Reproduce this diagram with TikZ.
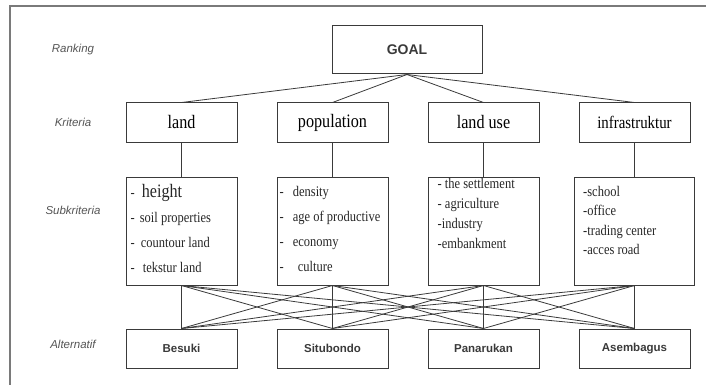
\documentclass[tikz,border=0pt]{standalone}
\usepackage{fontspec}
\setmainfont{Liberation Serif}[FakeStretch=0.85]
\setsansfont{Liberation Sans}
\usetikzlibrary{positioning}
\definecolor{inkgray}{HTML}{3A3A3A}
\definecolor{labelgray}{HTML}{555555}
\definecolor{framegray}{HTML}{7A7A7A}
\tikzset{
	goalbox/.style={draw=inkgray, line width=1pt, inner sep=0pt, minimum width=150pt, minimum height=48pt, font=\sffamily\bfseries\fontsize{14}{16}\selectfont, text=inkgray},
	critbox/.style={draw=inkgray, line width=1pt, inner sep=0pt, minimum width=111pt, minimum height=39pt, font=\fontsize{19}{21}\selectfont},
	subbox/.style={draw=inkgray, line width=1pt, inner sep=0pt, minimum width=111pt, minimum height=108pt},
	altbox/.style={draw=inkgray, line width=1pt, inner sep=0pt, minimum width=111pt, minimum height=39pt, font=\sffamily\bfseries\fontsize{11.5}{13}\selectfont, text=inkgray},
	sublist/.style={anchor=north west, inner sep=0pt, align=left, text=black!85},
	tier/.style={font=\sffamily\itshape\fontsize{11.5}{13}\selectfont, text=labelgray},
	link/.style={draw=inkgray, line width=0.8pt}
}

\begin{document}
\begin{tikzpicture}[x=1pt, y=1pt, node distance=34pt and 39pt]
	\useasboundingbox (0,0) rectangle (706,-385);
	% frame of the figure
	\coordinate (frametr) at (706,-6);
	\coordinate (frametl) at (10,-6);
	\coordinate (framebl) at (10,-385);
	\draw[framegray, line width=1.5pt] (frametr) -- (frametl) -- (framebl);

	\node[goalbox] (goal) at (407,-50) {GOAL};
	\node[critbox] (land) at (181.5,-122.5) {land};
	\node[critbox, right=of land] (population) {population};
	\node[critbox, right=of population] (landuse) {land use};
	\node[critbox, right=of landuse, font=\fontsize{17.5}{19}\selectfont] (infra) {infrastruktur};

	\node[subbox, below=of land] (sland) {};
	\node[subbox, below=of population] (spop) {};
	\node[subbox, below=of landuse] (sluse) {};
	\node[subbox, below=of infra, minimum width=120pt] (sinfra) {};

	\node[altbox, below=43pt of sland] (besuki) {Besuki};
	\node[altbox, below=43pt of spop] (situbondo) {Situbondo};
	\node[altbox, below=43pt of sluse] (panarukan) {Panarukan};
	\node[altbox, below=43pt of sinfra] (asembagus) {Asembagus};

	% sub criteria lists
	\node[sublist, font=\fontsize{14.7}{25}\selectfont] (landlist) at ([shift={(5pt,-8pt)}]sland.north west)
		{-\hspace{7pt}{\fontsize{19}{21}\selectfont height}\\ -\hspace{5pt}soil properties\\ -\hspace{6pt}countour land\\ -\hspace{8pt}tekstur land};
	\node[sublist, font=\fontsize{14.7}{25}\selectfont] (poplist) at ([shift={(3pt,-9.5pt)}]spop.north west)
		{-\hspace{9pt}density\\ -\hspace{9pt}age of productive\\ -\hspace{9pt}economy\\ -\hspace{14pt}culture};
	\node[sublist, font=\fontsize{14.7}{20}\selectfont] (luselist) at ([shift={(10pt,-2pt)}]sluse.north west)
		{- the settlement\\ - agriculture\\ -industry\\ -embankment};
	\node[sublist, font=\fontsize{14.7}{19.5}\selectfont] (infralist) at ([shift={(9pt,-9.5pt)}]sinfra.north west)
		{-school\\ -office\\ -trading center\\ -acces road};

	% level names
	\node[tier] (ranking) at (73,-50) {Ranking};
	\node[tier] (kriteria) at (73,-122.5) {Kriteria};
	\node[tier] (subkriteria) at (73,-210) {Subkriteria};
	\node[tier] (alternatif) at (73,-344) {Alternatif};

	\draw[link] (goal.south) -- (land.north);
	\draw[link] (goal.south) -- (population.north);
	\draw[link] (goal.south) -- (landuse.north);
	\draw[link] (goal.south) -- (infra.north);
	\draw[link] (land.south) -- (sland.north);
	\draw[link] (population.south) -- (spop.north);
	\draw[link] (landuse.south) -- (sluse.north);
	\draw[link] (infra.south) -- (sinfra.north);
	\foreach \s in {sland,spop,sluse,sinfra}
		\foreach \a in {besuki,situbondo,panarukan,asembagus}
			\draw[link] (\s.south) -- (\a.north);
\end{tikzpicture}
\end{document}
